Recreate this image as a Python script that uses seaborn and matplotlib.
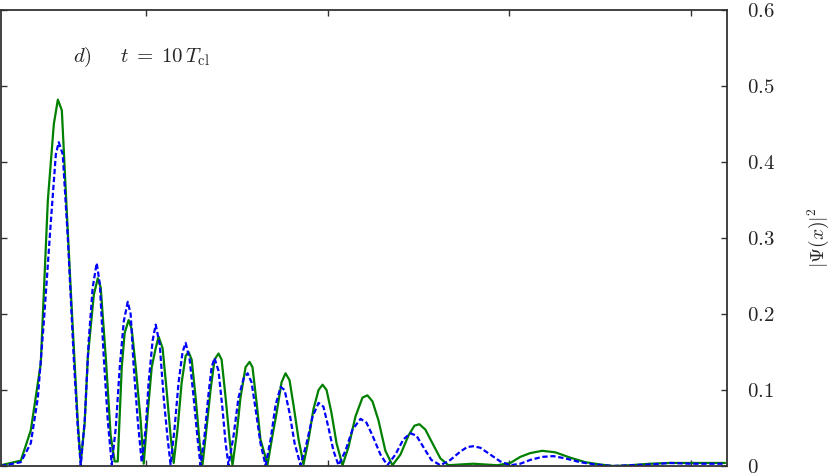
import matplotlib
matplotlib.use("Agg")
import matplotlib.pyplot as plt
from matplotlib.ticker import FuncFormatter
import seaborn as sns
import pandas as pd

# values (x in arbitrary units, ticks at 0,10,20,30)
x_green = [-8.00, -6.90, -6.35, -5.80, -5.41, -5.08, -4.86, -4.64, -4.42, -4.15, -3.76, -3.60,
           -3.38, -3.21, -2.88, -2.66, -2.50, -2.22, -1.95, -1.73, -1.56, -1.34, -1.18, -0.96,
           -0.79, -0.57, -0.30, -0.13, 0.09, 0.31, 0.53, 0.69, 0.91, 1.13, 1.35, 1.52, 1.74,
           1.96, 2.18, 2.34, 2.51, 2.73, 2.95, 3.11, 3.33, 3.55, 3.77, 3.99, 4.16, 4.38, 4.60,
           4.76, 4.98, 5.20, 5.48, 5.70, 5.86, 6.08, 6.30, 6.69, 6.96, 7.19, 7.46, 7.68, 7.90,
           8.12, 8.40, 8.67, 8.95, 9.22, 9.50, 9.72, 9.94, 10.21, 10.49, 10.82, 11.15, 11.53,
           11.92, 12.19, 12.47, 12.80, 13.18, 13.57, 14.01, 14.45, 14.78, 15.05, 15.38, 15.77,
           16.21, 16.65, 17.31, 18.02, 18.68, 19.34, 20.06, 20.61, 21.16, 21.82, 22.54, 23.36,
           24.19, 25.01, 25.73, 26.66, 27.76, 28.86, 29.96, 31.06, 31.89]
psi_green = [0.001, 0.007, 0.047, 0.135, 0.35, 0.45, 0.482, 0.468, 0.36, 0.232, 0.057, 0.004,
             0.057, 0.143, 0.225, 0.247, 0.235, 0.143, 0.04, 0.006, 0.006, 0.13, 0.175, 0.192,
             0.18, 0.13, 0.06, 0.003, 0.07, 0.13, 0.155, 0.17, 0.155, 0.10, 0.04, 0.004, 0.05,
             0.11, 0.145, 0.15, 0.14, 0.09, 0.03, 0.002, 0.05, 0.10, 0.14, 0.148, 0.14, 0.09, 0.035,
             0.001, 0.04, 0.09, 0.13, 0.137, 0.13, 0.085, 0.035, 0.002, 0.04, 0.07, 0.11, 0.122,
             0.113, 0.08, 0.035, 0.002, 0.035, 0.075, 0.10, 0.107, 0.10, 0.07, 0.03, 0.001, 0.025,
             0.065, 0.09, 0.093, 0.085, 0.06, 0.02, 0.001, 0.015, 0.04, 0.053, 0.055, 0.048, 0.03,
             0.01, 0.001, 0.002, 0.003, 0.002, 0.001, 0.004, 0.012, 0.017, 0.02, 0.018, 0.011,
             0.005, 0.002, 0.0, 0.001, 0.003, 0.004, 0.004, 0.004, 0.004]

x_blue = [-8.00, -6.90, -6.35, -5.96, -5.63, -5.25, -4.97, -4.81, -4.59, -4.31, -3.98, -3.76,
          -3.60, -3.38, -3.16, -2.94, -2.72, -2.55, -2.33, -2.11, -1.89, -1.67, -1.45, -1.23,
          -1.01, -0.85, -0.68, -0.46, -0.24, -0.02, 0.14, 0.36, 0.53, 0.75, 0.97, 1.19, 1.35,
          1.57, 1.79, 2.01, 2.18, 2.40, 2.62, 2.84, 3.00, 3.22, 3.44, 3.61, 3.77, 3.99, 4.21,
          4.38, 4.54, 4.82, 5.09, 5.37, 5.59, 5.81, 6.03, 6.30, 6.58, 6.86, 7.13, 7.41, 7.63,
          7.90, 8.18, 8.51, 8.84, 9.17, 9.50, 9.77, 10.05, 10.32, 10.60, 10.98, 11.37, 11.81,
          12.14, 12.47, 12.91, 13.29, 13.73, 14.17, 14.56, 14.89, 15.27, 15.71, 16.21, 16.76,
          17.31, 17.69, 18.02, 18.41, 18.96, 19.51, 20.06, 20.61, 21.16, 21.82, 22.43, 23.09,
          23.91, 24.74, 25.73, 26.66, 27.76, 28.86, 29.96, 31.06, 31.89]
psi_blue = [0.0, 0.005, 0.03, 0.09, 0.19, 0.32, 0.41, 0.426, 0.41, 0.30, 0.14, 0.05,
            0.001, 0.06, 0.165, 0.235, 0.267, 0.24, 0.143, 0.06, 0.002, 0.05, 0.13, 0.19,
            0.216, 0.20, 0.13, 0.06, 0.005, 0.05, 0.11, 0.165, 0.186, 0.16, 0.09, 0.035, 0.002,
            0.05, 0.11, 0.15, 0.162, 0.14, 0.09, 0.035, 0.001, 0.04, 0.095, 0.13, 0.142, 0.125,
            0.075, 0.03, 0.001, 0.04, 0.09, 0.115, 0.122, 0.11, 0.075, 0.03, 0.001, 0.035, 0.08,
            0.104, 0.10, 0.07, 0.03, 0.001, 0.03, 0.065, 0.083, 0.078, 0.05, 0.02, 0.001, 0.02,
            0.048, 0.062, 0.057, 0.04, 0.015, 0.001, 0.015, 0.035, 0.043, 0.04, 0.025, 0.008,
            0.001, 0.008, 0.019, 0.025, 0.026, 0.024, 0.015, 0.006, 0.001, 0.003, 0.008, 0.012,
            0.013, 0.01, 0.005, 0.002, 0.0, 0.001, 0.002, 0.004, 0.003, 0.003, 0.003]

y_ticks = [0, 0.1, 0.2, 0.3, 0.4, 0.5, 0.6]
x_ticks = [0, 10, 20, 30]

sns.set_style("ticks")
plt.rcParams["mathtext.fontset"] = "cm"
plt.rcParams["font.family"] = ["DejaVu Serif", "DejaVu Sans"]

df_g = pd.DataFrame({"x": x_green, "psi": psi_green})
df_b = pd.DataFrame({"x": x_blue, "psi": psi_blue})

fig = plt.figure(figsize=(8.3, 4.73), dpi=100)
ax = fig.add_axes([0.001, 0.0148, 0.875, 0.9641])

sns.lineplot(data=df_g, x="x", y="psi", ax=ax, color=(0, 0.5, 0), lw=1.6, estimator=None)
sns.lineplot(data=df_b, x="x", y="psi", ax=ax, color=(0, 0, 1), lw=1.6, estimator=None,
             dashes=False)
ax.lines[1].set_dashes((2.4, 1.2))

ax.set_xlim(-8, 32)
ax.set_ylim(0, 0.6)
ax.set_xticks(x_ticks)
ax.set_yticks(y_ticks)
ax.yaxis.set_major_formatter(FuncFormatter(lambda v, p: f"${v:g}$"))
ax.tick_params(axis="x", direction="in", top=True, bottom=True, labelbottom=False,
               length=4, width=1, color="#333333")
ax.tick_params(axis="y", direction="in", left=True, right=True, labelleft=False,
               labelright=True, length=4, width=1, color="#333333", labelsize=15, pad=14)
for s in ax.spines.values():
    s.set_color("#333333")
    s.set_linewidth(1.3)

ax.set_xlabel("")
ax.yaxis.set_label_position("right")
ax.set_ylabel(r"$|\Psi(x)|^2$", fontsize=14, labelpad=22)
ax.text(0.1, 0.897, r"$d)\quad\;\; t\;=\;10\,T_{\mathrm{cl}}$", transform=ax.transAxes,
        fontsize=15, va="center", ha="left")

fig.savefig("out.png", dpi=100)
